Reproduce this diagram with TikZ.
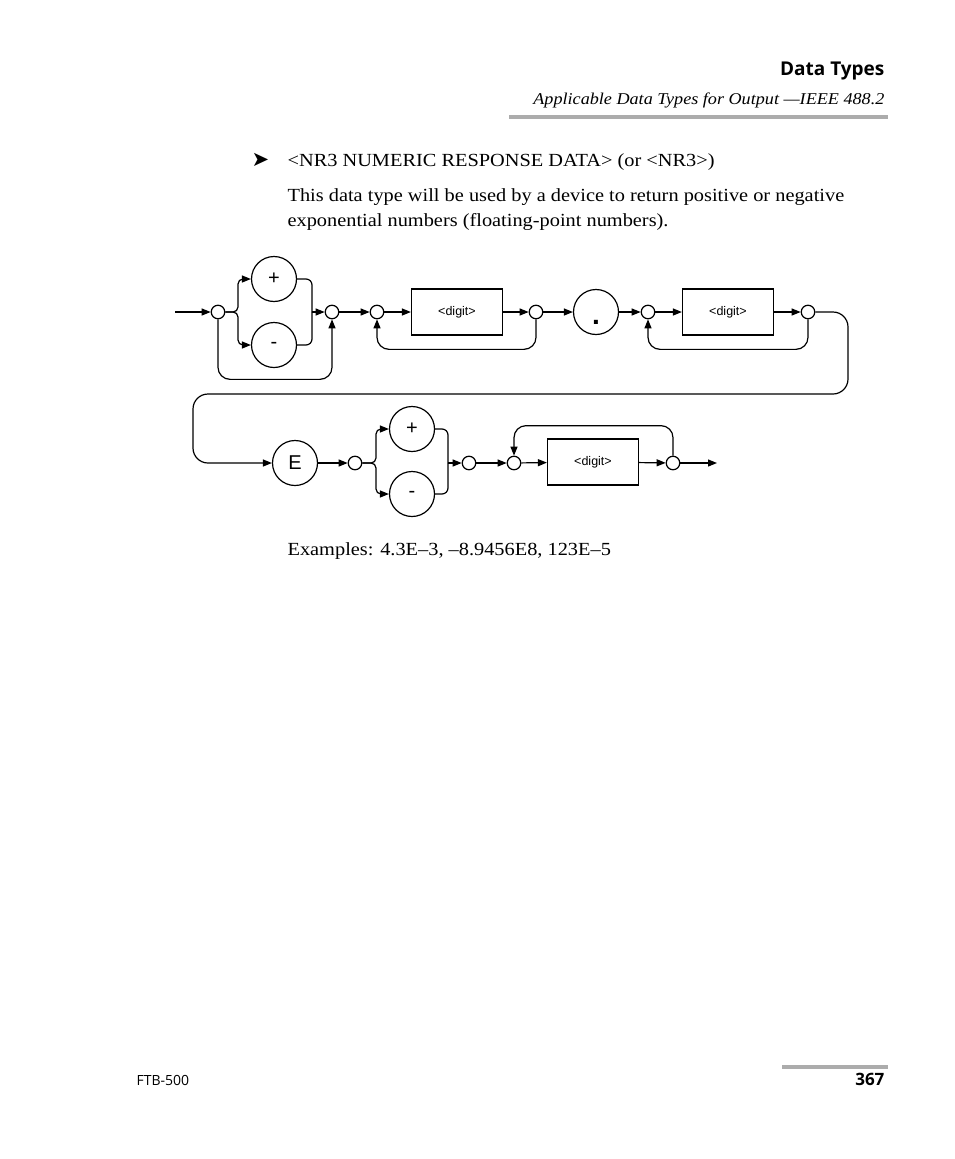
\documentclass[tikz,border=0pt]{standalone}
\usepackage{fontspec}
\setmainfont[FakeStretch=1.1]{Liberation Serif}
\newfontfamily\headfont{Open Sans}
\newfontfamily\diagfont{Liberation Sans}
\newfontfamily\symfont{DejaVu Sans}
\usepackage{xcolor}
\usetikzlibrary{arrows.meta}
\definecolor{rulegray}{RGB}{172,172,172}

\begin{document}
\begin{tikzpicture}[x=1pt,y=-1pt,line width=1.2pt,
	>={Triangle[length=9pt,width=7pt]},
	txt/.style={inner sep=0pt},
	junction/.style={circle,draw,inner sep=0pt,minimum size=13.5pt},
	term/.style={circle,draw,inner sep=0pt,minimum size=45pt,font=\diagfont\fontsize{20}{20}\selectfont},
	digitbox/.style={rectangle,draw,inner sep=0pt,minimum width=91pt,minimum height=46pt,font=\diagfont\fontsize{12.5}{12.5}\selectfont}]

	\useasboundingbox (0,0) rectangle (954,1159);

	% page head

	\node[txt,anchor=base east,font=\headfont\bfseries\fontsize{19}{22}\selectfont] (title) at (885,75) {Data Types};
	\node[txt,anchor=base east,font=\itshape\fontsize{16.5}{20}\selectfont] (subtitle) at (885,104) {Applicable Data Types for Output —IEEE 488.2};
	\draw[line width=4pt,color=rulegray] (509,117) -- (888,117);

	% text

	\node[txt,anchor=base west,font=\symfont\fontsize{21}{21}\selectfont] (bullet) at (251,166) {➤};
	\node[txt,anchor=base west,font=\fontsize{18.5}{25}\selectfont] (heading) at (287,166) {<NR3 NUMERIC RESPONSE DATA> (or <NR3>)};
	\node[txt,anchor=base west,font=\fontsize{18.5}{25}\selectfont] (line1) at (287,201) {This data type will be used by a device to return positive or negative};
	\node[txt,anchor=base west,font=\fontsize{18.5}{25}\selectfont] (line2) at (287,226) {exponential numbers (floating-point numbers).};
	\node[txt,anchor=base west,font=\fontsize{18.5}{25}\selectfont] (examples) at (287,555) {Examples: 4.3E–3, –8.9456E8, 123E–5};

	% first row

	\coordinate (in) at (175,312);
	\node[junction] (c1) at (218,312) {};
	\node[term] (plus1) at (274,279) {+};
	\node[term] (minus1) at (274,345) {-};
	\node[junction] (c2) at (332,312) {};
	\node[junction] (c3) at (377,312) {};
	\node[digitbox] (d1) at (457,312) {<digit>};
	\node[junction] (c4) at (536,312) {};
	\node[term,font=\diagfont\bfseries\fontsize{28}{28}\selectfont,text height=24pt,text depth=0pt] (dot) at (596,312) {.};
	\node[junction] (c5) at (648,312) {};
	\node[digitbox] (d2) at (728,312) {<digit>};
	\node[junction] (c6) at (808,312) {};

	\coordinate (f1) at (238,312);
	\coordinate (j1) at (312,312);
	\coordinate (r1) at (848,394);
	\coordinate (l1) at (193,394);

	% second row

	\node[term] (e) at (295,463) {E};
	\node[junction] (c7) at (355,463) {};
	\node[term] (plus2) at (412,429) {+};
	\node[term] (minus2) at (412,494) {-};
	\node[junction] (c8) at (469,463) {};
	\node[junction] (c9) at (514,463) {};
	\node[digitbox] (d3) at (593,462) {<digit>};
	\node[junction] (c10) at (673,463) {};
	\coordinate (out) at (717,463);

	\coordinate (f2) at (376,463);
	\coordinate (j2) at (448,463);

	% connectors, first row

	\draw[->] (in) -- (c1);
	\draw[->,rounded corners=5pt] (c1.east) -- (f1) |- (plus1.west);
	\draw[->,rounded corners=5pt] (c1.east) -- (f1) |- (minus1.west);
	\draw[rounded corners=6pt] (plus1.east) -| (j1);
	\draw[rounded corners=6pt] (minus1.east) -| (j1);
	\draw[->] (j1) -- (c2);
	\draw[->,rounded corners=12pt] (c1.south) -- ++(0,60) -| (c2.south);
	\draw[->] (c2) -- (c3);
	\draw[->] (c3) -- (d1);
	\draw[->] (d1) -- (c4);
	\draw[->,rounded corners=12pt] (c4.south) -- ++(0,30) -| (c3.south);
	\draw[->] (c4) -- (dot);
	\draw[->] (dot) -- (c5);
	\draw[->] (c5) -- (d2);
	\draw[->] (d2) -- (c6);
	\draw[->,rounded corners=12pt] (c6.south) -- ++(0,30) -| (c5.south);

	% wrap to second row

	\draw[->,rounded corners=15pt] (c6.east) -| (r1) -- (l1) |- (e.west);

	% connectors, second row

	\draw[->] (e) -- (c7);
	\draw[->,rounded corners=5pt] (c7.east) -- (f2) |- (plus2.west);
	\draw[->,rounded corners=5pt] (c7.east) -- (f2) |- (minus2.west);
	\draw[rounded corners=6pt] (plus2.east) -| (j2);
	\draw[rounded corners=6pt] (minus2.east) -| (j2);
	\draw[->] (j2) -- (c8);
	\draw[->] (c8) -- (c9);
	\draw[->] (c9) -- (d3);
	\draw[->] (d3) -- (c10);
	\draw[->,rounded corners=12pt] (c10.north) -- ++(0,-30) -| (c9.north);
	\draw[->] (c10) -- (out);

	% page foot

	\draw[line width=4pt,color=rulegray] (782,1067) -- (888,1067);
	\node[txt,anchor=base west,font=\headfont\fontsize{14}{14}\selectfont] (product) at (136,1085) {FTB-500};
	\node[txt,anchor=base east,font=\headfont\bfseries\fontsize{17}{17}\selectfont] (page) at (885,1085) {367};

\end{tikzpicture}
\end{document}
